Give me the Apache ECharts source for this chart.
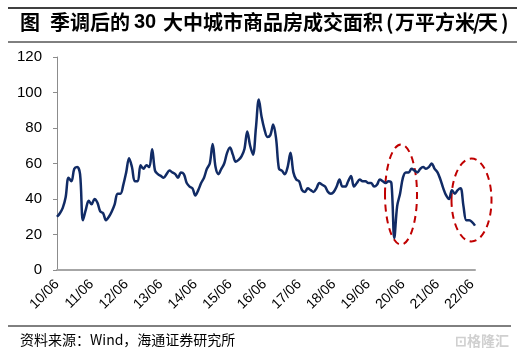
<!DOCTYPE html>
<html>
<head>
<meta charset="utf-8">
<script src="https://cdn.jsdelivr.net/npm/echarts@6/dist/echarts.min.js"></script>
<style>html,body{margin:0;padding:0;background:#fff}#c{width:531px;height:355px}</style>
</head>
<body>
<div id="c"></div>
<script>
// Monthly, 2010-06 .. 2022-07
const startYear = 2010, startMonth = 6;
const areaValues = [
  30, 32, 35, 41, 52, 50, 57, 58, 54, 28,
  34, 39, 37, 40, 38, 33, 32, 28, 30, 33,
  37, 43, 43, 48, 55, 63, 58, 50, 50, 59,
  57, 59, 58, 68, 56, 54, 53, 52, 54, 56,
  55, 54, 52, 55, 54, 49, 47, 46, 42, 45,
  49, 52, 57, 60, 71, 58, 54, 57, 60, 66,
  69, 65, 61, 62, 64, 68, 78, 70, 65, 80,
  96, 86, 79, 75, 76, 82, 74, 57, 56, 54,
  58, 66, 55, 51, 50, 45, 44, 46, 45, 44,
  46, 49, 48, 47, 44, 43, 44, 47, 51, 47,
  47, 50, 53, 47, 49, 51, 50, 50, 49, 49,
  47, 48, 51, 50, 49, 50, 49, 18, 36, 43,
  52, 55, 55, 57, 56, 55, 57, 58, 57, 58,
  60, 57, 55, 51, 46, 42, 40, 45, 43, 45,
  46, 36, 28, 28, 27, 25
];
const tickLabels = ['10/06','11/06','12/06','13/06','14/06','15/06','16/06','17/06','18/06','19/06','20/06','21/06','22/06'];
const yTicks = [0, 20, 40, 60, 80, 100, 120];

const categories = [];
for (let i = 0; i < areaValues.length; i++) {
  const m = startMonth - 1 + i;
  const y = startYear + Math.floor(m / 12);
  const mo = (m % 12) + 1;
  categories.push(String(y % 100).padStart(2, '0') + '/' + String(mo).padStart(2, '0'));
}

const titleFont = 'bold 20px "Noto Sans CJK SC"';
const chart = echarts.init(document.getElementById('c'), null, {renderer: 'canvas'});
const option = {
  animation: false,
  grid: {left: 57, right: 56, top: 57, bottom: 85},
  xAxis: {
    type: 'category',
    data: categories,
    boundaryGap: false,
    axisLine: {lineStyle: {color: '#a6a6a6', width: 2}},
    axisTick: {show: false},
    axisLabel: {
      interval: function (idx, val) { return tickLabels.indexOf(val) >= 0; },
      rotate: 45,
      margin: 12,
      color: '#000',
      fontFamily: 'Liberation Sans, Arial',
      fontSize: 14
    }
  },
  yAxis: {
    type: 'value',
    min: yTicks[0],
    max: yTicks[yTicks.length - 1],
    interval: 20,
    axisLine: {show: true, lineStyle: {color: '#8c8c8c', width: 1}},
    axisTick: {show: true, length: 4, lineStyle: {color: '#8c8c8c'}},
    splitLine: {show: false},
    axisLabel: {color: '#000', fontFamily: 'Liberation Sans, Arial', fontSize: 15, margin: 15}
  },
  series: [{
    type: 'line',
    data: areaValues,
    smooth: 0.35,
    symbol: 'none',
    lineStyle: {color: '#112b65', width: 2.5}
  }],
  graphic: [
    {type: 'line', shape: {x1: 8, y1: 8, x2: 517, y2: 8}, style: {stroke: '#000', lineWidth: 1.5}},
    {type: 'line', shape: {x1: 8, y1: 42, x2: 517, y2: 42}, style: {stroke: '#000', lineWidth: 1}},
    {type: 'text', left: 20, top: 12, style: {text: '图', font: titleFont, fill: '#000'}},
    {type: 'text', left: 50, top: 12, style: {text: '季调后的', font: titleFont, fill: '#000'}},
    {type: 'text', left: 134, top: 12, style: {text: '30', font: 'bold 20px "Liberation Sans"', fill: '#000'}},
    {type: 'text', left: 163, top: 12, style: {text: '大中城市商品房成交面积', font: titleFont, fill: '#000'}},
    {type: 'text', left: 386, top: 12, style: {text: '(', font: titleFont, fill: '#000'}},
    {type: 'text', left: 395, top: 12, style: {text: '万平方米', font: titleFont, fill: '#000'}},
    {type: 'text', left: 473, top: 12, style: {text: '/', font: titleFont, fill: '#000'}},
    {type: 'text', left: 478, top: 12, style: {text: '天', font: titleFont, fill: '#000'}},
    {type: 'text', left: 501, top: 12, style: {text: ')', font: titleFont, fill: '#000'}},
    {type: 'ellipse', shape: {cx: 401, cy: 194.5, rx: 16, ry: 50}, style: {fill: 'none', stroke: '#c00000', lineWidth: 2, lineDash: [7, 5]}},
    {type: 'ellipse', shape: {cx: 471.5, cy: 200, rx: 20, ry: 41.5}, style: {fill: 'none', stroke: '#c00000', lineWidth: 2, lineDash: [7, 5]}},
    {type: 'line', shape: {x1: 8, y1: 326, x2: 511, y2: 326}, style: {stroke: '#000', lineWidth: 1}},
    {type: 'text', left: 20, top: 333, style: {text: '资料来源：Wind，海通证券研究所', font: '14px "Noto Sans CJK SC"', fill: '#000'}},
    {type: 'text', left: 455, top: 334, style: {text: '⊡格隆汇', font: 'bold 14px "Noto Sans CJK SC"', fill: '#d0d0d0'}}
  ]
};
chart.setOption(option);
</script>
</body>
</html>
